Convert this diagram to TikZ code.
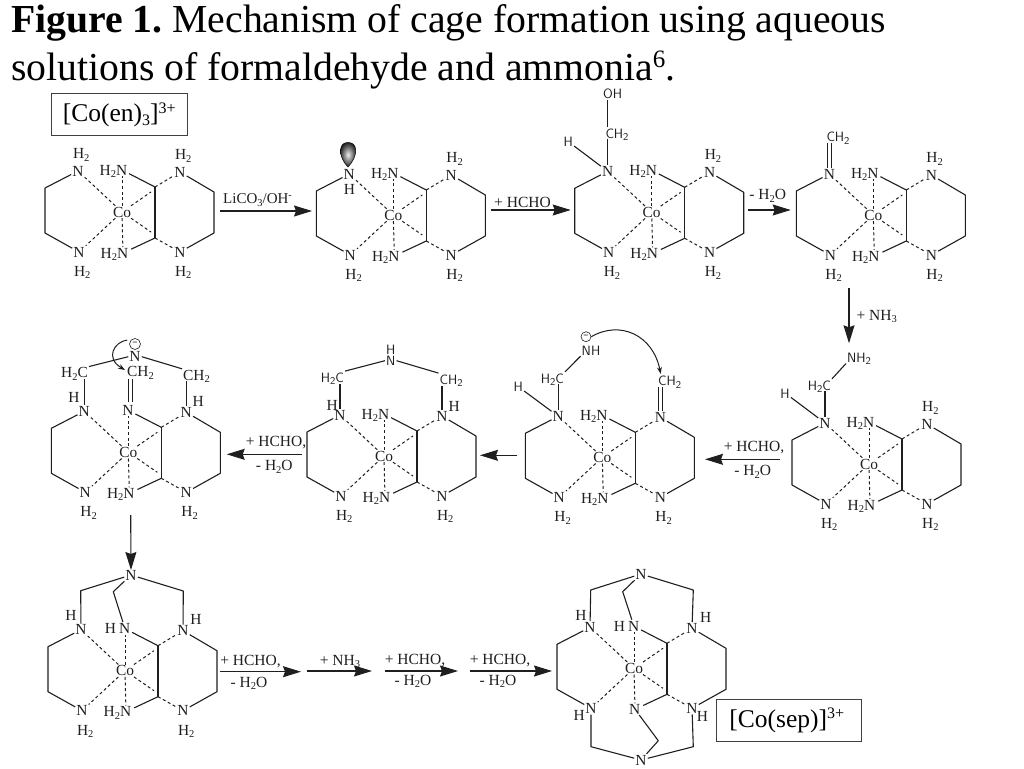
\documentclass[tikz,border=0pt]{standalone}
\usepackage{fontspec}
\setmainfont{Liberation Serif}
\usetikzlibrary{arrows.meta,calc}
\newcommand\lsub[1]{\raisebox{-2.5pt}{\fontsize{10.5}{10.5}\selectfont #1}}
\newcommand\lsup[1]{\raisebox{5pt}{\fontsize{10}{10}\selectfont #1}}
\definecolor{ink}{gray}{0.12}
\tikzset{
 atom/.style={inner sep=1pt,text height=10pt,text depth=0pt,text=ink,font=\fontsize{15.4}{17}\selectfont},
 catom/.style={inner sep=0pt,text height=10pt,text depth=0pt,text=ink,font=\fontsize{15.4}{17}\selectfont},
 sans/.style={atom,font=\fontsize{13.5}{15}\selectfont\sffamily},
 bond/.style={draw=ink,line width=1.1pt},
 dbond/.style={draw=ink,line width=1pt,dash pattern=on 3pt off 2.6pt},
 rarrow/.style={draw=ink,line width=1.1pt,-{Stealth[length=18pt,width=11pt,inset=2pt]}},
 cond/.style={inner sep=0pt,text=ink,font=\fontsize{15.5}{17}\selectfont},
 titletext/.style={inner sep=0pt,anchor=base west,font=\fontsize{39.7}{44}\selectfont},
 namebox/.style={draw=black!75,line width=1pt,inner sep=0pt,minimum height=42.5pt,font=\fontsize{25.5}{28}\selectfont}
}
% #1 prefix, #2 x, #3 y, #4 top centre text, #5 bottom centre text
\newcommand\cocore[5]{%
 \begin{scope}[shift={(#2,#3)}]
 \node[atom] (#1-co) at (0,0) {Co};
 \node[atom] (#1-nlt) at (-44,-41) {N};
 \node[atom] (#1-nlb) at (-43,40) {N};
 \node[atom] (#1-nrt) at (58,-40) {N};
 \node[atom] (#1-nrb) at (58,40) {N};
 \node[catom,anchor=east] (#1-top) at (5.4,-42) {#4};
 \node[catom,anchor=east] (#1-bot) at (6.4,41) {#5};
 \coordinate (#1-tc) at (0,-42);
 \coordinate (#1-bc) at (1,41);
 \coordinate (#1-l1) at (-77,-24);
 \coordinate (#1-l2) at (-77,21);
 \coordinate (#1-r1) at (92,-20);
 \coordinate (#1-r2) at (92,21);
 \coordinate (#1-ct) at (33,-25);
 \coordinate (#1-cb) at (33,26);
 \coordinate (#1-du) at (29,-20);
 \coordinate (#1-dd) at (29,20);
 \end{scope}
 \draw[bond,line join=round] (#1-nlt) -- (#1-l1) -- (#1-l2) -- (#1-nlb);
 \draw[bond,line join=round] (#1-nrt) -- (#1-r1) -- (#1-r2) -- (#1-nrb);
 \draw[bond,shorten <=8pt] (#1-tc) -- (#1-ct);
 \draw[bond,shorten <=9pt] (#1-bc) -- (#1-cb);
 \draw[bond] (#1-ct) -- (#1-cb);
 \draw[dbond] (#1-co) -- (#1-nlt);
 \draw[dbond] (#1-co) -- (#1-nlb);
 \draw[dbond,shorten >=6pt] (#1-co) -- (#1-tc);
 \draw[dbond,shorten >=6pt] (#1-co) -- (#1-bc);
 \draw[dbond] (#1-co) -- (#1-du);
 \draw[dbond] (#1-co) -- (#1-dd);
 \draw[dbond] (#1-ct) -- (#1-nrt);
 \draw[dbond] (#1-cb) -- (#1-nrb);
}
\newcommand\Hup[1]{\node[atom] (#1-h) at ([shift={(3.3,-17.5)}]#1.center) {H\lsub{2}};}
\newcommand\Hdn[1]{\node[atom] (#1-h) at ([shift={(3.3,19.4)}]#1.center) {H\lsub{2}};}
\newcommand\HNH{H\lsub{2}N}
\begin{document}
\frenchspacing
\begin{tikzpicture}[x=1pt,y=-1pt]
\useasboundingbox (0,0) rectangle (1024,768);
% title
\node[titletext] (t1) at (11,33) {\textbf{Figure 1.} Mechanism of cage formation using aqueous};
\node[titletext] (t2) at (11,80) {solutions of formaldehyde and ammonia\raisebox{13pt}{\fontsize{25}{27}\selectfont 6}.};
% name boxes
\node[namebox,minimum width=136.5pt] (b1) at (119.3,114.7) {[Co(en)\raisebox{-4pt}{\fontsize{16}{18}\selectfont 3}]\raisebox{8.5pt}{\fontsize{16}{18}\selectfont 3+}};
\node[namebox,minimum width=145pt] (b2) at (789.3,720.5) {\hspace*{-5pt}[Co(sep)]\raisebox{8.5pt}{\fontsize{16}{18}\selectfont 3+}};

% molecule 1
\cocore{m1}{122}{212}{\HNH}{\HNH}
\Hup{m1-nlt}\Hdn{m1-nlb}\Hup{m1-nrt}\Hdn{m1-nrb}
% molecule 2
\cocore{m2}{393.3}{215}{\HNH}{\HNH}
\Hdn{m2-nlb}\Hup{m2-nrt}\Hdn{m2-nrb}
\node[atom] (m2-h) at (349.5,189) {H};
\shade[inner color=black!8,outer color=black!85,draw=black,line width=0.5pt]
 (348,167) .. controls (343,162) and (340,155) .. (340.5,150)
 .. controls (341,144.5) and (344,142.5) .. (348,142.5)
 .. controls (352,142.5) and (355.5,144.5) .. (355.7,150)
 .. controls (356,155) and (353,162) .. (348,167) -- cycle;
% molecule 3
\cocore{m3}{651.7}{212.3}{\HNH}{\HNH}
\Hdn{m3-nlb}\Hup{m3-nrt}\Hdn{m3-nrb}
\node[sans] (m3-ch) at (617,133) {CH\lsub{2}};
\node[sans] (m3-oh) at (612.7,93.3) {OH};
\node[sans] (m3-hh) at (568.3,141.7) {H};
\draw[bond] (m3-nlt) -- (m3-hh);
\draw[bond] (m3-nlt) -- (m3-nlt |- m3-ch.south);
\draw[bond] (m3-nlt |- m3-ch.north) -- (m3-nlt |- m3-oh.south);
% molecule 4
\cocore{m4}{873.3}{215}{\HNH}{\HNH}
\Hdn{m4-nlb}\Hup{m4-nrt}\Hdn{m4-nrb}
\node[sans] (m4-ch) at (838,136.7) {CH\lsub{2}};
\draw[bond,transform canvas={xshift=-1.8pt}] (m4-nlt) -- (m4-nlt |- m4-ch.south);
\draw[bond,transform canvas={xshift=1.8pt}] (m4-nlt) -- (m4-nlt |- m4-ch.south);
% molecule 5
\cocore{m5}{869}{464}{\HNH}{\HNH}
\Hdn{m5-nlb}\Hup{m5-nrt}\Hdn{m5-nrb}
\node[sans,anchor=east] (m5-c) at (832,385) {H\lsub{2}C};
\node[sans,anchor=west] (m5-n) at (846,357.3) {NH\lsub{2}};
\node[sans] (m5-hh) at (785,393) {H};
\draw[bond] (m5-nlt) -- (m5-hh);
\draw[bond] (m5-nlt) -- (m5-nlt |- m5-c.south);
\draw[bond] (m5-c.north east) -- (m5-n.south west);
% molecule 6
\cocore{m6}{602.3}{457.3}{\HNH}{\HNH}
\Hdn{m6-nlb}\Hdn{m6-nrb}
\node[sans,anchor=east] (m6-c) at (565,378) {H\lsub{2}C};
\node[sans] (m6-n) at (591,350) {NH};
\node[sans] (m6-hh) at (518.3,386.7) {H};
\node[sans,anchor=west] (m6-ch) at (657,380.7) {CH\lsub{2}};
\node[draw=ink,circle,inner sep=0pt,minimum size=10pt,line width=0.6pt,font=\fontsize{9}{9}\selectfont\bfseries] (m6-neg) at (586,336.7) {−};
\draw[bond] (m6-nlt) -- (m6-hh);
\draw[bond] (m6-nlt) -- (m6-nlt |- m6-c.south);
\draw[bond] (m6-c.north east) -- (m6-n.south west);
\draw[bond,transform canvas={xshift=-2.2pt}] (m6-nrt) -- (m6-nrt |- m6-ch.south);
\draw[bond,transform canvas={xshift=1.8pt}] (m6-nrt) -- (m6-nrt |- m6-ch.south);
\draw[draw=ink,line width=1pt,-{Stealth[length=7pt,width=5pt]}] (m6-neg.east) .. controls (620,320) and (653,335) .. (660.7,374);
% molecule 7
\cocore{m7}{384}{456}{\HNH}{\HNH}
\Hdn{m7-nlb}\Hdn{m7-nrb}
\node[sans,anchor=east] (m7-cl) at (345,377.3) {H\lsub{2}C};
\node[sans,anchor=west] (m7-cr) at (438.5,379.3) {CH\lsub{2}};
\node[sans] (m7-n) at (390.7,360.7) {N};
\node[sans] (m7-nh) at (390.7,349) {H};
\node[atom] (m7-hl) at (332.3,405) {H};
\node[atom] (m7-hr) at (454.3,406.7) {H};
\draw[bond] (m7-nlt) -- (m7-nlt |- m7-cl.south);
\draw[bond] (m7-nrt) -- (m7-nrt |- m7-cr.south);
\draw[bond] (m7-cl.north east) -- (m7-n.west);
\draw[bond] (m7-n.east) -- (m7-cr.north west);
% molecule 8
\cocore{m8}{128.3}{452.3}{N}{\HNH}
\Hdn{m8-nlb}\Hdn{m8-nrb}
\node[atom,anchor=east] (m8-cl) at (89,372.7) {H\lsub{2}C};
\node[atom,anchor=west] (m8-cr) at (182,375) {CH\lsub{2}};
\node[atom,anchor=west] (m8-cc) at (126,371.7) {CH\lsub{2}};
\node[atom] (m8-n) at (135,356.7) {N};
\node[draw=ink,circle,inner sep=0pt,minimum size=11pt,line width=0.6pt,font=\fontsize{9}{9}\selectfont\bfseries] (m8-neg) at (135,344) {−};
\node[atom] (m8-hl) at (74,397.7) {H};
\node[atom] (m8-hr) at (198.3,401) {H};
\draw[bond] (m8-nlt) -- (m8-nlt |- m8-cl.south);
\draw[bond] (m8-nrt) -- (m8-nrt |- m8-cr.south);
\draw[bond] (m8-cl.north east) -- (m8-n.west);
\draw[bond] (m8-n.east) -- (m8-cr.north west);
\draw[bond] (128.3,379.3) -- (128.3,401.7);
\draw[bond] (132.7,379.3) -- (132.7,401.7);
\draw[draw=ink,line width=1pt,-{Stealth[length=7pt,width=5pt]}] (m8-neg.west) ++(-2,-4) .. controls (114,342) and (105,358) .. (125,370);
% molecule 9
\cocore{m9}{125}{670.7}{H\kern3pt N}{\HNH}
\Hdn{m9-nlb}\Hdn{m9-nrb}
\node[atom] (m9-n) at (131,575) {N};
\node[atom] (m9-hl) at (71,615.7) {H};
\node[atom] (m9-hr) at (196,619.3) {H};
\coordinate (m9-cl) at (80.7,590.7);
\coordinate (m9-cr) at (183.3,591);
\coordinate (m9-cm) at (113.3,591.7);
\draw[bond,line join=round] (m9-nlt) -- (m9-cl) -- (m9-n);
\draw[bond,line join=round] (m9-nrt) -- (m9-cr) -- (m9-n);
\draw[bond,line join=round,shorten <=7pt] (m9-tc) -- (m9-cm) -- (m9-n);
% molecule 10
\cocore{m10}{634}{668.3}{H\kern3pt N}{N}
\node[atom] (m10-n) at (641,574) {N};
\node[atom] (m10-s) at (641,760) {N};
\node[atom] (m10-hl) at (581,615) {H};
\node[atom] (m10-hr) at (705.7,617.7) {H};
\node[atom] (m10-hbl) at (579.3,715) {H};
\node[atom] (m10-hbr) at (702.3,716.7) {H};
\coordinate (m10-cl) at (590.7,590);
\coordinate (m10-cr) at (693.3,590);
\coordinate (m10-cm) at (622.7,591.7);
\coordinate (m10-dl) at (591,746.7);
\coordinate (m10-dr) at (693.3,746.7);
\coordinate (m10-dm) at (658.3,740.7);
\draw[bond,line join=round] (m10-nlt) -- (m10-cl) -- (m10-n);
\draw[bond,line join=round] (m10-nrt) -- (m10-cr) -- (m10-n);
\draw[bond,line join=round,shorten <=7pt] (m10-tc) -- (m10-cm) -- (m10-n);
\draw[bond,line join=round] (m10-nlb) -- (m10-dl) -- (m10-s);
\draw[bond,line join=round] (m10-nrb) -- (m10-dr) -- (m10-s);
\draw[bond,line join=round,shorten <=7pt] (m10-bc) -- (m10-dm) -- (m10-s);

% reaction arrows
\coordinate (a1s) at (220,211); \coordinate (a1e) at (312,211);
\draw[rarrow] (a1s) -- (a1e);
\node[cond,font=\fontsize{15}{17}\selectfont] (l1) at (257.5,200) {LiCO\lsub{3}/OH\lsup{-}};
\coordinate (a2s) at (490.7,210); \coordinate (a2e) at (570.7,210);
\draw[rarrow] (a2s) -- (a2e);
\node[cond] (l2) at (522.5,202) {+ HCHO};
\coordinate (a3s) at (748.3,210); \coordinate (a3e) at (790.7,210);
\draw[rarrow] (a3s) -- (a3e);
\node[cond] (l3) at (767.7,196) {- H\lsub{2}O};
\coordinate (a4s) at (849,288.3); \coordinate (a4e) at (849,343.3);
\draw[rarrow] (a4s) -- (a4e);
\node[cond] (l4) at (876.7,316.5) {+ NH\lsub{3}};
\coordinate (a5s) at (780,459.3); \coordinate (a5e) at (705,459.3);
\draw[rarrow] (a5s) -- (a5e);
\node[cond] (l5a) at (754,447.3) {+ HCHO,};
\node[cond] (l5b) at (752.7,472) {- H\lsub{2}O};
\coordinate (a6s) at (517.3,455.3); \coordinate (a6e) at (480,455.3);
\draw[rarrow] (a6s) -- (a6e);
\coordinate (a7s) at (301.7,454.3); \coordinate (a7e) at (226.7,454.3);
\draw[rarrow] (a7s) -- (a7e);
\node[cond] (l7a) at (276,442.3) {+ HCHO,};
\node[cond] (l7b) at (274.3,467) {- H\lsub{2}O};
\coordinate (a8s) at (130.7,515); \coordinate (a8e) at (131,570);
\draw[rarrow] (a8s) -- (a8e);
\coordinate (a9s) at (220,671.7); \coordinate (a9e) at (301,671.7);
\draw[rarrow] (a9s) -- (a9e);
\node[cond] (l9a) at (250.5,662) {+ HCHO,};
\node[cond] (l9b) at (249,683.5) {- H\lsub{2}O};
\coordinate (a10s) at (307,671); \coordinate (a10e) at (372,671);
\draw[rarrow] (a10s) -- (a10e);
\node[cond] (l10) at (340,661.5) {+ NH\lsub{3}};
\coordinate (a11s) at (385,671); \coordinate (a11e) at (458,671);
\draw[rarrow] (a11s) -- (a11e);
\node[cond] (l11a) at (415,660.5) {+ HCHO,};
\node[cond] (l11b) at (413,681.5) {- H\lsub{2}O};
\coordinate (a12s) at (470,671); \coordinate (a12e) at (552,671);
\draw[rarrow] (a12s) -- (a12e);
\node[cond] (l12a) at (500,660.5) {+ HCHO,};
\node[cond] (l12b) at (498,681.5) {- H\lsub{2}O};
\end{tikzpicture}
\end{document}
